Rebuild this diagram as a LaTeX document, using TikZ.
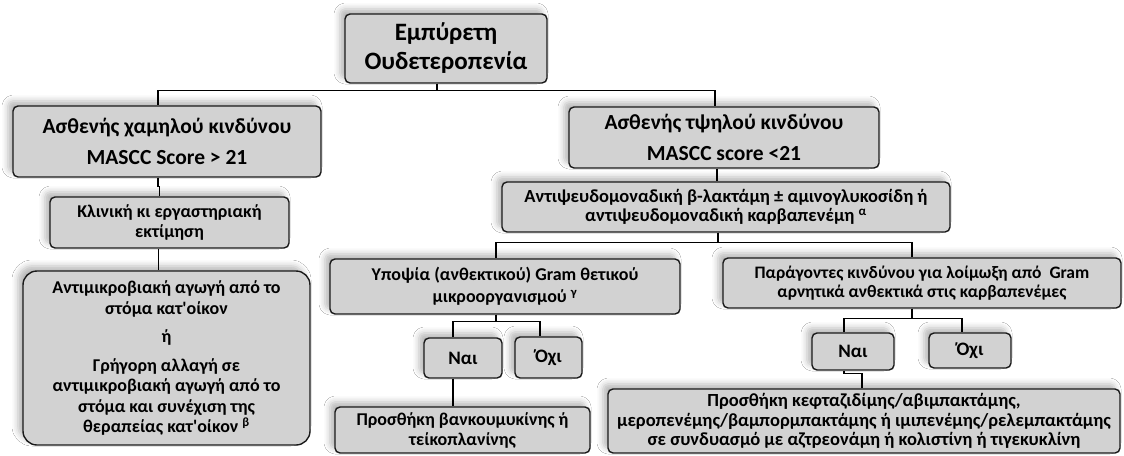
\documentclass[tikz,border=0pt]{standalone}
\usepackage{fontspec}
\setmainfont{Carlito}
\usepackage{tikz}
\usetikzlibrary{shadows.blur}
\definecolor{boxgray}{HTML}{D2D2D2}
\definecolor{boxline}{HTML}{1A1A1A}

\begin{document}
\begin{tikzpicture}[
  x=1pt, y=-1pt,
  every node/.style={font=\bfseries\fontsize{17.5}{20.5}\selectfont},
  mybox/.style 2 args={rectangle, rounded corners=5pt, draw=boxline, line width=1.4pt, fill=boxgray,
              minimum width=#1, minimum height=#2, align=center, inner sep=1pt,
              blur shadow={shadow xshift=-5pt, shadow yshift=5pt, shadow blur radius=6pt, shadow opacity=28}},
  answer/.style={font=\bfseries\fontsize{19}{22}\selectfont},
  conn/.style={draw=black, line width=1.4pt},
]
  \path[use as bounding box, fill=white] (0,0) rectangle (1124,455);

  \node[mybox={202pt}{69pt}, font=\bfseries\fontsize{25}{29}\selectfont] (fev) at (446,48.5) {Εμπύρετη\\Ουδετεροπενία};
  \node[mybox={308pt}{71pt}, font=\bfseries\fontsize{21.5}{26}\selectfont] (low)  at (167,141.5)
    {Ασθενής χαμηλού κινδύνου\\[5pt]MASCC Score > 21};
  \node[mybox={310pt}{61pt}, font=\bfseries\fontsize{21.5}{26}\selectfont] (high) at (724,137.5)
    {Ασθενής τψηλού κινδύνου\\[5pt]MASCC score <21};
  \node[mybox={239pt}{51pt}, font=\bfseries\fontsize{18}{20}\selectfont] (clin) at (169.5,222.5)
    {Κλινική κι εργαστηριακή\\εκτίμηση};
  \node[mybox={448pt}{50pt}, font=\bfseries\fontsize{18.5}{19}\selectfont] (anti) at (726,207)
    {Αντιψευδομοναδική β-λακτάμη ± αμινογλυκοσίδη ή\\αντιψευδομοναδική καρβαπενέμη \textsuperscript{α}};
  \node[mybox={287pt}{174pt}, rounded corners=14pt, font=\bfseries\fontsize{18}{20.5}\selectfont] (home) at (166.5,358)
    {Αντιμικροβιακή αγωγή από το\\στόμα κατ\textquotesingle οίκον\\[8pt]ή\\[8pt]Γρήγορη αλλαγή σε\\αντιμικροβιακή αγωγή από το\\στόμα και συνέχιση της\\θεραπείας κατ\textquotesingle οίκον \textsuperscript{β}};
  \node[mybox={350pt}{55pt}, font=\bfseries\fontsize{18}{22}\selectfont] (gpos) at (505,286.5)
    {Υποψία (ανθεκτικού) Gram θετικού\\μικροοργανισμού \textsuperscript{γ}};
  \node[mybox={398pt}{50pt}, font=\bfseries\fontsize{17.5}{19.5}\selectfont] (gneg) at (922,283)
    {Παράγοντες κινδύνου για λοίμωξη από \ Gram\\αρνητικά ανθεκτικά στις καρβαπενέμες};
  \node[mybox={78pt}{40pt}, answer] (yes1) at (463,358) {Ναι};
  \node[mybox={67pt}{41pt}, answer] (no1)  at (548.5,357.5) {Όχι};
  \node[mybox={82pt}{37pt}, answer] (yes2) at (853,351.5) {Ναι};
  \node[mybox={82pt}{35pt}, answer] (no2)  at (970,350.5) {Όχι};
  \node[mybox={255pt}{46pt}, font=\bfseries\fontsize{18}{20}\selectfont] (vanc) at (462.5,430)
    {Προσθήκη βανκουμυκίνης ή\\τείκοπλανίνης};
  \node[mybox={512pt}{64pt}, font=\bfseries\fontsize{18.5}{19.5}\selectfont] (ceft) at (864,421)
    {Προσθήκη κεφταζιδίμης/αβιμπακτάμης,\\μεροπενέμης/βαμπορμπακτάμης ή ιμιπενέμης/ρελεμπακτάμης\\σε συνδυασμό με αζτρεονάμη ή κολιστίνη ή τιγεκυκλίνη};

  \draw[conn] ([xshift=-9pt]fev.south) -- ++(0,7) -| ([xshift=-9pt]low.north);
  \draw[conn] ([xshift=-9pt]fev.south) -- ++(0,7) -| ([xshift=-9pt]high.north);
  \draw[conn] ([xshift=-9pt]low.south) -- ++(0,9) -| ([xshift=-10pt]clin.north);
  \draw[conn] ([xshift=-11pt]clin.south) -- ++(0,11) -| ([xshift=-8pt]home.north);
  \draw[conn] ([xshift=-7pt]high.south) -- ([xshift=-9pt]anti.north);
  \draw[conn] ([xshift=-8pt]anti.south) -- ++(0,10) -| ([xshift=-9pt]gpos.north);
  \draw[conn] ([xshift=-8pt]anti.south) -- ++(0,10) -| ([xshift=-10pt]gneg.north);
  \draw[conn] ([xshift=-9pt]gpos.south) -- ++(0,7) -| ([xshift=-10pt]yes1.north);
  \draw[conn] ([xshift=-9pt]gpos.south) -- ++(0,7) -| ([xshift=-8.5pt]no1.north);
  \draw[conn] ([xshift=-10pt]yes1.south) -- ([xshift=-9.5pt]vanc.north);
  \draw[conn] ([xshift=-10pt]gneg.south) -- ++(0,10) -| ([xshift=-9pt]yes2.north);
  \draw[conn] ([xshift=-10pt]gneg.south) -- ++(0,10) -| ([xshift=-8pt]no2.north);
  \draw[conn] ([xshift=-9pt]yes2.south) -- ++(0,3) -| ([xshift=-2pt]ceft.north);
\end{tikzpicture}
\end{document}
